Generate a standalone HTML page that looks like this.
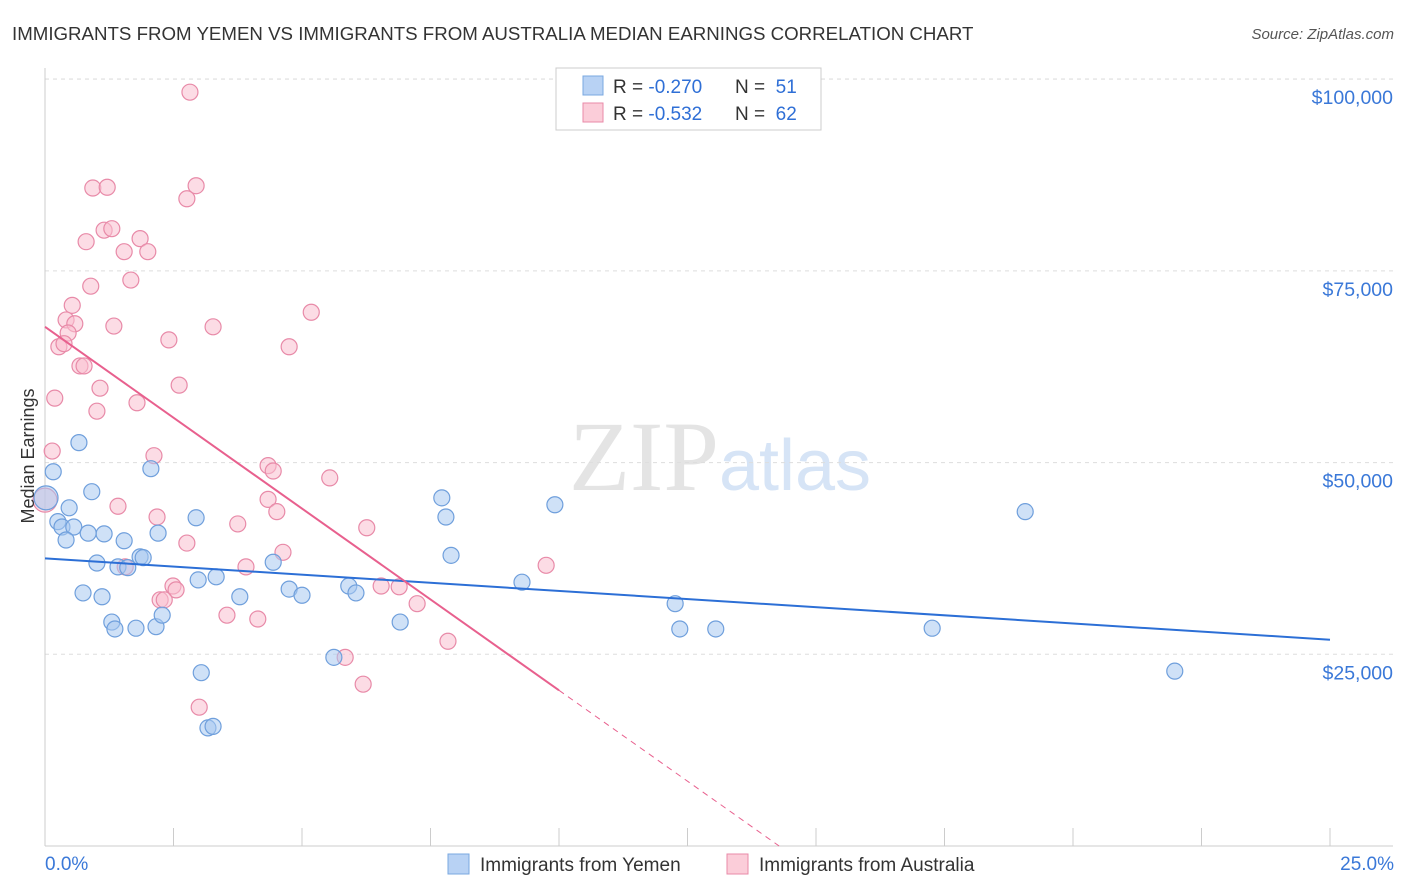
<!DOCTYPE html>
<html><head><meta charset="utf-8"><style>
body{margin:0;background:#fff;font-family:"Liberation Sans",sans-serif}
svg{display:block}
</style></head><body>
<svg id="chart" width="1406" height="892" viewBox="0 0 1406 892" xmlns="http://www.w3.org/2000/svg">
<text x="12" y="40" font-size="18.7" fill="#333">IMMIGRANTS FROM YEMEN VS IMMIGRANTS FROM AUSTRALIA MEDIAN EARNINGS CORRELATION CHART</text>
<text x="1394" y="39" font-size="15" fill="#555" font-style="italic" text-anchor="end">Source: ZipAtlas.com</text>
<text x="720" y="490" font-size="100" text-anchor="middle" fill="#e4e4e4" font-family="Liberation Serif">ZIP<tspan fill="#d6e4f6" font-family="Liberation Sans" font-size="72">atlas</tspan></text>
<g id="grid"></g><g id="axes"></g>
<g id="pts"></g><g id="lines"></g>
<text transform="translate(34,456) rotate(-90)" font-size="18" fill="#333" text-anchor="middle">Median Earnings</text>
<g>
<rect x="556" y="68" width="265" height="62" fill="#fff" stroke="#ccc"/>
<rect x="583" y="76" width="20" height="19" fill="#b8d2f4" stroke="#7aa8e0"/>
<rect x="583" y="103" width="20" height="19" fill="#fbcdd9" stroke="#e88aa8"/>
<text x="613" y="93" font-size="19" fill="#333">R = <tspan fill="#2f6fd6">-0.270</tspan><tspan x="735">N = </tspan><tspan fill="#2f6fd6">&#160;51</tspan></text>
<text x="613" y="120" font-size="19" fill="#333">R = <tspan fill="#2f6fd6">-0.532</tspan><tspan x="735">N = </tspan><tspan fill="#2f6fd6">&#160;62</tspan></text>
</g>
<g>
<rect x="448" y="854" width="21" height="20" fill="#b8d2f4" stroke="#7aa8e0"/>
<text x="480" y="871" font-size="19" fill="#333">Immigrants from Yemen</text>
<rect x="727" y="854" width="21" height="20" fill="#fbcdd9" stroke="#e88aa8"/>
<text x="759" y="871" font-size="19" fill="#333">Immigrants from Australia</text>
</g>
</svg>
<script>
const yTicks=[25000,50000,75000,100000];
const yTickLabels=["$25,000","$50,000","$75,000","$100,000"];
const xTickLabels=["0.0%","25.0%"];
const blueX=[0.16,0.66,0.91,0.47,0.25,0.33,0.56,0.41,0.84,1.15,1.54,2.20,2.06,1.01,0.74,1.11,1.42,1.61,1.85,1.91,1.30,1.36,1.77,2.16,2.28,2.94,2.98,3.33,3.04,3.17,3.27,3.79,4.44,4.75,5.00,5.62,5.91,6.05,6.91,7.72,7.80,7.90,9.28,9.92,12.26,12.35,13.05,17.26,19.07,21.98,0.02];
const blueY=[48.8,52.6,46.2,44.1,42.3,41.6,41.6,39.9,40.8,40.7,39.8,40.8,49.2,36.9,33.0,32.5,36.4,36.3,37.7,37.6,29.2,28.3,28.4,28.6,30.1,42.8,34.7,35.1,22.6,15.4,15.6,32.5,37.0,33.5,32.7,24.6,33.9,33.0,29.2,45.4,42.9,37.9,34.4,44.5,31.6,28.3,28.3,28.4,43.6,22.8,45.4];
const pinkX=[2.82,0.93,1.21,2.94,2.76,0.80,1.15,1.30,1.85,1.54,2.00,0.89,1.67,0.53,0.41,0.58,0.45,0.27,0.37,1.34,2.41,3.27,5.18,4.75,0.68,0.76,0.19,1.07,1.01,1.79,2.61,0.14,2.12,0.0,1.42,2.18,4.34,4.44,5.54,4.34,4.51,3.75,6.26,2.76,4.63,1.56,3.91,2.49,2.55,2.24,2.32,3.54,4.14,6.54,6.89,7.24,9.75,7.84,5.84,6.19,3.00];
const pinkY=[98.3,85.8,85.9,86.1,84.4,78.8,80.3,80.5,79.2,77.5,77.5,73.0,73.8,70.5,68.6,68.1,66.9,65.1,65.5,67.8,66.0,67.7,69.6,65.1,62.6,62.6,58.4,59.7,56.7,57.8,60.1,51.5,50.9,45.1,44.3,42.9,49.6,48.9,48.0,45.2,43.6,42.0,41.5,39.5,38.3,36.4,36.4,33.9,33.4,32.1,32.1,30.1,29.6,33.9,33.8,31.6,36.6,26.7,24.6,21.1,18.1];
const blueTrend=[37.5,26.9];
const pinkTrend=[67.7,-4.74];
const NS="http://www.w3.org/2000/svg";
const sx=p=>45+p*51.4;
const sy=v=>846-v*1000/130.4;
function mk(t,a,parent){const e=document.createElementNS(NS,t);for(const k in a)e.setAttribute(k,a[k]);document.getElementById(parent).appendChild(e);return e;}
yTicks.forEach((v,i)=>{
 const g=mk('line',{x1:45,x2:1393,y1:sy(v/1000),y2:sy(v/1000),stroke:'#ddd','stroke-dasharray':'4,4'},'grid');
 
 
 const t=mk('text',{x:1393,y:sy(v/1000)+25,'font-size':19.5,fill:'#3a78d8','text-anchor':'end'},'axes');
 t.textContent=yTickLabels[i];
 
 
});
const topGrid=mk('line',{x1:45,x2:1393,y1:79,y2:79,stroke:'#ddd','stroke-dasharray':'4,4'},'grid');


const yAxisLine=mk('line',{x1:45,x2:45,y1:68,y2:846,stroke:'#ccc'},'axes');


const xAxisLine=mk('line',{x1:45,x2:1393,y1:846,y2:846,stroke:'#ccc'},'axes');


for(let i=0;i<=10;i++){const tk=mk('line',{x1:sx(i*2.5),x2:sx(i*2.5),y1:828,y2:846,stroke:'#ccc'},'axes');
 
 }
[[0,45,'start'],[25,1394,'end']].forEach((d,i)=>{const t=mk('text',{x:d[1],y:870,'font-size':19,fill:'#3a78d8','text-anchor':d[2]},'axes');t.textContent=xTickLabels[i];
 
 });
function pts(X,Y,fill,stroke,name){X.forEach((x,i)=>{const big=x<0.05;const c=mk('circle',{cx:sx(x),cy:sy(Y[i]),r:big?12:8,fill:fill,'fill-opacity':0.55,stroke:stroke,'stroke-width':1.2},'pts');
 
 });}
pts(pinkX,pinkY,'#f9c0d0','#e88aa8','australia-point');
pts(blueX,blueY,'#a8c8f0','#6f9fdc','yemen-point');
const bl=mk('line',{x1:sx(0),y1:sy(blueTrend[0]),x2:sx(25),y2:sy(blueTrend[1]),stroke:'#2c6fd6','stroke-width':2},'lines');


const pAt=x=>pinkTrend[0]+pinkTrend[1]*x;
const pl=mk('line',{x1:sx(0),y1:sy(pAt(0)),x2:sx(10),y2:sy(pAt(10)),stroke:'#e8608e','stroke-width':2},'lines');


const xz=-pinkTrend[0]/pinkTrend[1];
const pd=mk('line',{x1:sx(10),y1:sy(pAt(10)),x2:sx(xz),y2:sy(0),stroke:'#e8608e','stroke-width':1,'stroke-dasharray':'6,5'},'lines');


</script>
</body></html>
